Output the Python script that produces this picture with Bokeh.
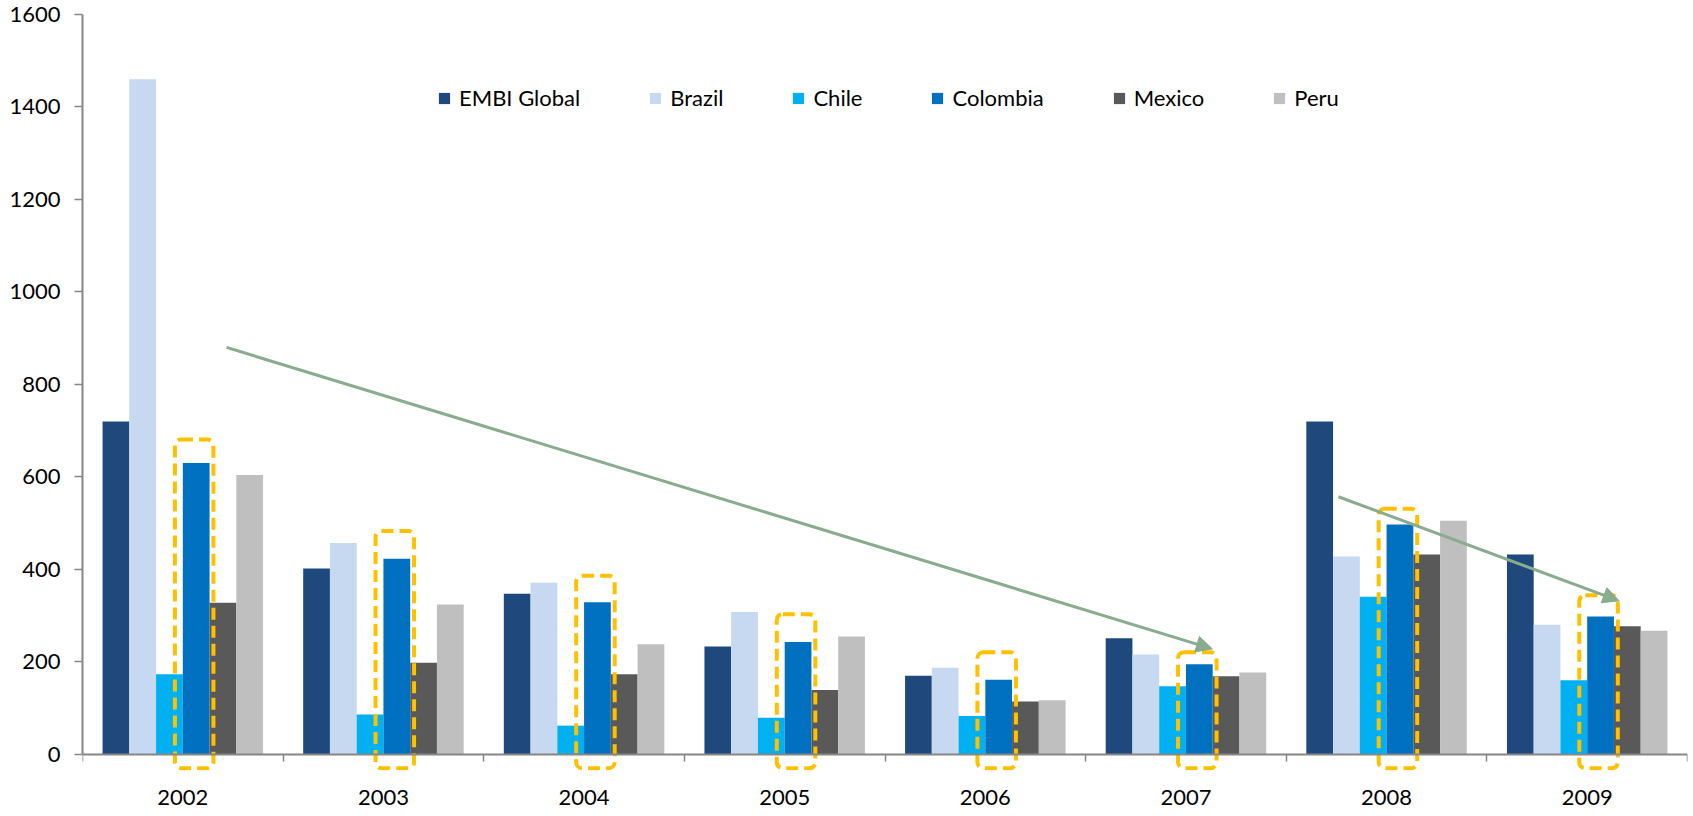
from bokeh.plotting import figure
from bokeh.models import (Range1d, FixedTicker, LinearAxis, Legend, LegendItem,
                          Arrow, NormalHead, ColumnDataSource)
from bokeh.embed import file_html
from bokeh.resources import INLINE

years = ["2002", "2003", "2004", "2005", "2006", "2007", "2008", "2009"]
series = ["EMBI Global", "Brazil", "Chile", "Colombia", "Mexico", "Peru"]
embi = [720, 402, 347, 233, 170, 251, 720, 432]
brazil = [1460, 457, 371, 308, 187, 216, 428, 280]
chile = [173, 86, 62, 79, 83, 147, 341, 160]
colombia = [630, 423, 329, 243, 161, 195, 497, 298]
mexico = [328, 198, 173, 139, 114, 169, 432, 277]
peru = [604, 324, 238, 255, 117, 177, 505, 267]
colors = ["#1F497D", "#C6D9F1", "#00B0F0", "#0070C0", "#595959", "#BFBFBF"]

# highlight boxes around Colombia (annotation: top value of each dashed box)
highlight_top = [681, 483, 386, 303, 221, 221, 531, 344]
highlight_bottom = -30

# trend arrows (annotation, data coordinates)
arrows = [((0.718, 880), (5.632, 228)), ((6.26, 557), (7.659, 332))]

FONT = "Lato"
GREY = "#868686"

p = figure(width=1693, height=816, x_range=Range1d(0, 8), y_range=Range1d(-35, 1600),
           output_backend="svg", toolbar_location=None,
           x_axis_type=None, y_axis_type=None,
           min_border_left=82, min_border_right=6, min_border_top=14, min_border_bottom=46)
p.grid.visible = False
p.outline_line_color = None
p.background_fill_color = "white"

n = len(series)
bw = 0.8 / n
values = [embi, brazil, chile, colombia, mexico, peru]
items = []
for j, (name, vals, col) in enumerate(zip(series, values, colors)):
    xs = [i + 0.5 + (j - (n - 1) / 2) * bw for i in range(len(years))]
    src = ColumnDataSource(dict(x=xs, top=vals, year=years))
    r = p.vbar(x="x", top="top", bottom=0, width=bw, source=src,
               fill_color=col, line_color=None)
    items.append(LegendItem(label=name, renderers=[r]))

# dashed highlight boxes
ci = series.index("Colombia")
cx = [i + 0.5 + (ci - (n - 1) / 2) * bw - 0.01 for i in range(len(years))]
half = 0.096
box_src = ColumnDataSource(dict(left=[c - half for c in cx], right=[c + half for c in cx],
                                top=highlight_top, bottom=[highlight_bottom] * len(years)))
p.quad(left="left", right="right", top="top", bottom="bottom", source=box_src,
       fill_color=None, line_color="#FFC000", line_width=4, line_dash="12 6",
       border_radius=6)

# axes
yaxis = LinearAxis(ticker=FixedTicker(ticks=list(range(0, 1601, 200))), bounds=(0, 1600))
yaxis.axis_line_color = GREY
yaxis.axis_line_width = 2
yaxis.major_tick_line_color = GREY
yaxis.major_tick_line_width = 1.5
yaxis.major_tick_out = 8
yaxis.major_tick_in = 0
yaxis.minor_tick_line_color = None
yaxis.major_label_text_font = FONT
yaxis.major_label_text_font_size = "22px"
yaxis.major_label_text_color = "black"
yaxis.major_label_standoff = 14
p.add_layout(yaxis, "left")

# axis line and category boundary ticks at value 0
xline = LinearAxis(ticker=FixedTicker(ticks=[], minor_ticks=list(range(len(years) + 1))),
                   fixed_location=0)
xline.axis_line_color = GREY
xline.axis_line_width = 2
xline.major_tick_line_color = None
xline.minor_tick_line_color = GREY
xline.minor_tick_line_width = 1.5
xline.minor_tick_out = 7
xline.minor_tick_in = 0
xline.major_label_text_font_size = "0px"
p.add_layout(xline, "below")

# category labels
xlab = LinearAxis(ticker=FixedTicker(ticks=[i + 0.5 for i in range(len(years))]))
xlab.major_label_overrides = {i + 0.5: y for i, y in enumerate(years)}
xlab.axis_line_color = None
xlab.major_tick_line_color = None
xlab.minor_tick_line_color = None
xlab.major_tick_out = 0
xlab.major_tick_in = 0
xlab.major_label_text_font = FONT
xlab.major_label_text_font_size = "22px"
xlab.major_label_text_color = "black"
xlab.major_label_standoff = 19
p.add_layout(xlab, "below")

# arrows
for (xs, ys), (xe, ye) in arrows:
    p.add_layout(Arrow(x_start=xs, y_start=ys, x_end=xe, y_end=ye,
                       line_color="#89AB8E", line_width=3,
                       end=NormalHead(size=16, fill_color="#89AB8E", line_color="#89AB8E")))

legend = Legend(items=items, orientation="horizontal", location=(355, 659),
                glyph_width=14, glyph_height=14, label_standoff=8, spacing=68,
                padding=0, margin=0, border_line_color=None, background_fill_alpha=0,
                label_text_font=FONT, label_text_font_size="22px", label_text_color="black")
p.add_layout(legend)

open("out.html", "w").write(file_html(p, INLINE))
